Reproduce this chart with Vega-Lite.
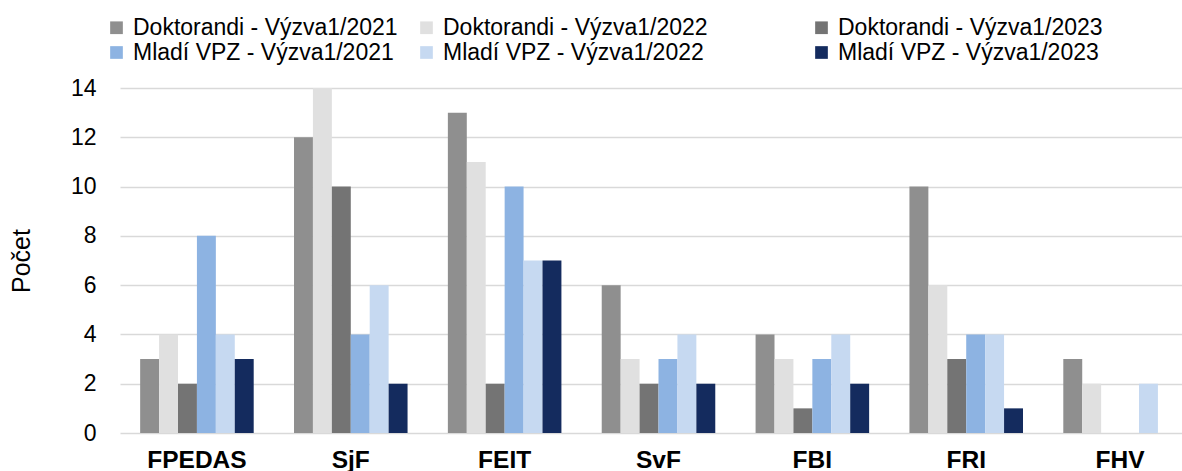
{
  "$schema": "https://vega.github.io/schema/vega-lite/v6.json",
  "width": 1062,
  "height": 345,
  "autosize": {"type": "none"},
  "padding": {"left": 120, "top": 88, "right": 0, "bottom": 38},
  "background": "white",
  "config": {"font": "Liberation Sans", "view": {"stroke": null}},
  "data": {
    "values": [
      {"fakulta": "FPEDAS", "seria": "Doktorandi - Výzva1/2021", "pocet": 3},
      {"fakulta": "FPEDAS", "seria": "Doktorandi - Výzva1/2022", "pocet": 4},
      {"fakulta": "FPEDAS", "seria": "Doktorandi - Výzva1/2023", "pocet": 2},
      {"fakulta": "FPEDAS", "seria": "Mladí VPZ - Výzva1/2021", "pocet": 8},
      {"fakulta": "FPEDAS", "seria": "Mladí VPZ - Výzva1/2022", "pocet": 4},
      {"fakulta": "FPEDAS", "seria": "Mladí VPZ - Výzva1/2023", "pocet": 3},
      {"fakulta": "SjF", "seria": "Doktorandi - Výzva1/2021", "pocet": 12},
      {"fakulta": "SjF", "seria": "Doktorandi - Výzva1/2022", "pocet": 14},
      {"fakulta": "SjF", "seria": "Doktorandi - Výzva1/2023", "pocet": 10},
      {"fakulta": "SjF", "seria": "Mladí VPZ - Výzva1/2021", "pocet": 4},
      {"fakulta": "SjF", "seria": "Mladí VPZ - Výzva1/2022", "pocet": 6},
      {"fakulta": "SjF", "seria": "Mladí VPZ - Výzva1/2023", "pocet": 2},
      {"fakulta": "FEIT", "seria": "Doktorandi - Výzva1/2021", "pocet": 13},
      {"fakulta": "FEIT", "seria": "Doktorandi - Výzva1/2022", "pocet": 11},
      {"fakulta": "FEIT", "seria": "Doktorandi - Výzva1/2023", "pocet": 2},
      {"fakulta": "FEIT", "seria": "Mladí VPZ - Výzva1/2021", "pocet": 10},
      {"fakulta": "FEIT", "seria": "Mladí VPZ - Výzva1/2022", "pocet": 7},
      {"fakulta": "FEIT", "seria": "Mladí VPZ - Výzva1/2023", "pocet": 7},
      {"fakulta": "SvF", "seria": "Doktorandi - Výzva1/2021", "pocet": 6},
      {"fakulta": "SvF", "seria": "Doktorandi - Výzva1/2022", "pocet": 3},
      {"fakulta": "SvF", "seria": "Doktorandi - Výzva1/2023", "pocet": 2},
      {"fakulta": "SvF", "seria": "Mladí VPZ - Výzva1/2021", "pocet": 3},
      {"fakulta": "SvF", "seria": "Mladí VPZ - Výzva1/2022", "pocet": 4},
      {"fakulta": "SvF", "seria": "Mladí VPZ - Výzva1/2023", "pocet": 2},
      {"fakulta": "FBI", "seria": "Doktorandi - Výzva1/2021", "pocet": 4},
      {"fakulta": "FBI", "seria": "Doktorandi - Výzva1/2022", "pocet": 3},
      {"fakulta": "FBI", "seria": "Doktorandi - Výzva1/2023", "pocet": 1},
      {"fakulta": "FBI", "seria": "Mladí VPZ - Výzva1/2021", "pocet": 3},
      {"fakulta": "FBI", "seria": "Mladí VPZ - Výzva1/2022", "pocet": 4},
      {"fakulta": "FBI", "seria": "Mladí VPZ - Výzva1/2023", "pocet": 2},
      {"fakulta": "FRI", "seria": "Doktorandi - Výzva1/2021", "pocet": 10},
      {"fakulta": "FRI", "seria": "Doktorandi - Výzva1/2022", "pocet": 6},
      {"fakulta": "FRI", "seria": "Doktorandi - Výzva1/2023", "pocet": 3},
      {"fakulta": "FRI", "seria": "Mladí VPZ - Výzva1/2021", "pocet": 4},
      {"fakulta": "FRI", "seria": "Mladí VPZ - Výzva1/2022", "pocet": 4},
      {"fakulta": "FRI", "seria": "Mladí VPZ - Výzva1/2023", "pocet": 1},
      {"fakulta": "FHV", "seria": "Doktorandi - Výzva1/2021", "pocet": 3},
      {"fakulta": "FHV", "seria": "Doktorandi - Výzva1/2022", "pocet": 2},
      {"fakulta": "FHV", "seria": "Doktorandi - Výzva1/2023", "pocet": 0},
      {"fakulta": "FHV", "seria": "Mladí VPZ - Výzva1/2021", "pocet": 0},
      {"fakulta": "FHV", "seria": "Mladí VPZ - Výzva1/2022", "pocet": 2},
      {"fakulta": "FHV", "seria": "Mladí VPZ - Výzva1/2023", "pocet": 0}
    ]
  },
  "mark": {"type": "bar"},
  "encoding": {
    "x": {
      "field": "fakulta",
      "type": "nominal",
      "sort": ["FPEDAS", "SjF", "FEIT", "SvF", "FBI", "FRI", "FHV"],
      "scale": {"range": [0, 1077], "paddingInner": 0.262, "paddingOuter": 0.131},
      "axis": {
        "title": null,
        "labelAngle": 0,
        "labelFontWeight": "bold",
        "labelFontSize": 24.5,
        "labelColor": "#000000",
        "ticks": false,
        "domain": false,
        "labelPadding": 15
      }
    },
    "xOffset": {
      "field": "seria",
      "type": "nominal",
      "scale": {
        "domain": ["Doktorandi - Výzva1/2021", "Doktorandi - Výzva1/2022", "Doktorandi - Výzva1/2023", "Mladí VPZ - Výzva1/2021", "Mladí VPZ - Výzva1/2022", "Mladí VPZ - Výzva1/2023"],
        "paddingInner": 0,
        "paddingOuter": 0
      }
    },
    "y": {
      "field": "pocet",
      "type": "quantitative",
      "scale": {"domain": [0, 14], "nice": false},
      "axis": {
        "title": "Počet",
        "values": [0, 2, 4, 6, 8, 10, 12, 14],
        "ticks": false,
        "domain": false,
        "labelFontSize": 23,
        "labelPadding": 24,
        "labelColor": "#000000",
        "titleFontSize": 25,
        "titleFontWeight": "normal",
        "titleColor": "#000000",
        "titlePadding": 36,
        "gridColor": "#d9d9d9",
        "gridWidth": 1.5
      }
    },
    "color": {
      "field": "seria",
      "type": "nominal",
      "scale": {
        "domain": ["Doktorandi - Výzva1/2021", "Doktorandi - Výzva1/2022", "Doktorandi - Výzva1/2023", "Mladí VPZ - Výzva1/2021", "Mladí VPZ - Výzva1/2022", "Mladí VPZ - Výzva1/2023"],
        "range": ["#8f8f8f", "#e0e0e0", "#747474", "#8db3e2", "#c6d9f1", "#142b5e"]
      },
      "legend": {
        "title": null,
        "orient": "none",
        "legendX": -15,
        "legendY": -72,
        "direction": "horizontal",
        "columns": 3,
        "columnPadding": 17,
        "rowPadding": 1,
        "padding": 0,
        "symbolType": "square",
        "symbolSize": 161,
        "symbolStrokeWidth": 0,
        "labelFontSize": 23,
        "labelLimit": 700,
        "labelOffset": 5,
        "labelColor": "#000000",
        "labelExpr": "indexof(datum.label, '2022') >= 0 ? datum.label + '\u2800\u2800\u2800\u2800\u2800' : datum.label"
      }
    }
  }
}
